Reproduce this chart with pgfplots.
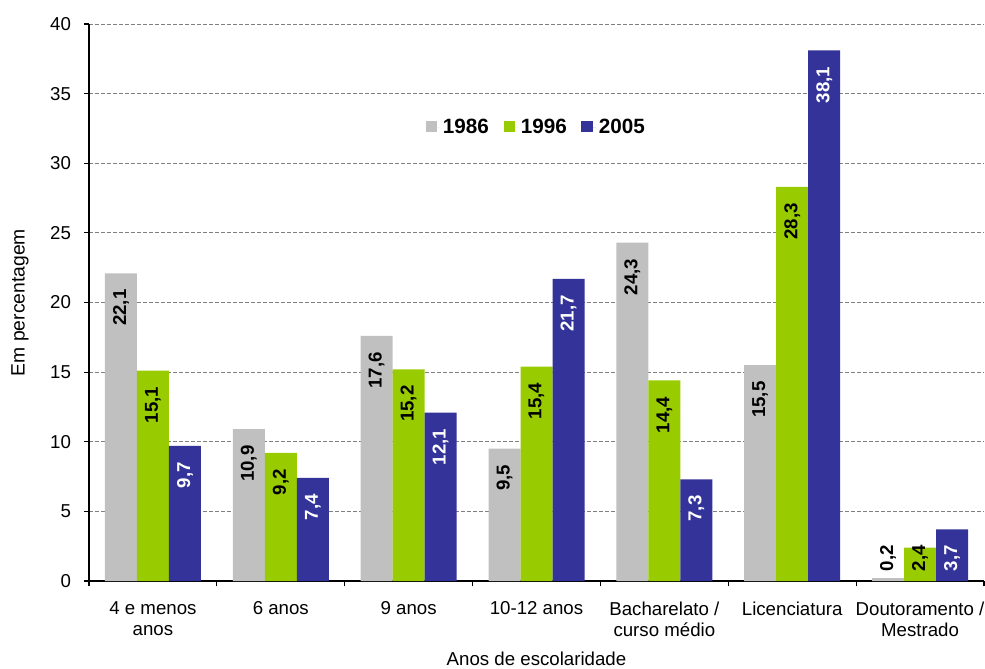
\documentclass[border=0pt]{standalone}
\usepackage{fontspec}
\setmainfont{Liberation Sans}
\usepackage{pgfplots}
\pgfplotsset{compat=1.18}
\definecolor{c86}{HTML}{C0C0C0}
\definecolor{c96}{HTML}{99CC00}
\definecolor{c05}{HTML}{333399}
\begin{document}
\begin{tikzpicture}
\useasboundingbox (-66.75pt,-65.25pt) rectangle (672pt,435.75pt);
\begin{axis}[
  at={(0,0)}, anchor=south west,
  scale only axis, width=671.25pt, height=417.75pt,
  ybar=0pt, bar width=24pt,
  xmin=-0.5, xmax=6.5, ymin=0, ymax=40,
  axis lines*=left,
  axis line style={line width=0.9pt},
  ytick={0,5,...,40},
  xtick={0,...,6},
  xticklabels={4 e menos\\anos, 6 anos, 9 anos, 10-12 anos, Bacharelato /\\curso médio, Licenciatura, Doutoramento /\\Mestrado},
  major tick length=0pt,
  minor xtick={-0.5,0.5,...,6.5},
  minor ytick={0,5,...,40},
  minor tick length=4pt,
  tick align=outside,
  tick style={black, line width=0.9pt},
  ymajorgrids,
  major grid style={gray, dash pattern=on 3pt off 1.5pt, line width=0.6pt},
  /pgf/number format/assume math mode=true,
  xticklabel style={font=\fontsize{14}{16}\selectfont, align=center, yshift=-12pt},
  yticklabel style={font=\fontsize{14}{16}\selectfont, xshift=-10pt},
  xlabel={Anos de escolaridade},
  xlabel style={font=\fontsize{14}{16}\selectfont, at={(axis description cs:0.5,0)}, anchor=north, yshift=-50pt},
  ylabel={Em percentagem},
  ylabel style={font=\fontsize{14.5}{16}\selectfont, at={([xshift=-51.75pt]axis description cs:0,0.5)}, anchor=center},
  legend style={at={(axis description cs:0.5,0.815)}, anchor=center, draw=none, fill=none,
    legend columns=-1, font=\fontsize{15.5}{18}\selectfont\bfseries,
    /tikz/every even column/.append style={column sep=9pt}},
  legend image code/.code={\path (0pt,0pt) -- (11pt,0pt);\draw[#1, draw=none] (0pt,-4pt) rectangle (8.5pt,4.5pt);},
  nodes near coords={\pgfmathprintnumber[fixed,fixed zerofill,precision=1,use comma]{\pgfplotspointmeta}},
  visualization depends on={rawy \as \rawy},
  every node near coord/.append style={font=\fontsize{14}{16}\selectfont\bfseries, inner sep=3pt,
    yshift={max(-12,27-10.444*\rawy)+3}, rotate=90, anchor=east},
]
\addplot[fill=c86, draw=none] coordinates {
  (0,22.1) (1,10.9) (2,17.6) (3,9.5) (4,24.3) (5,15.5) (6,0.2)
};
\addplot[fill=c96, draw=none] coordinates {
  (0,15.1) (1,9.2) (2,15.2) (3,15.4) (4,14.4) (5,28.3) (6,2.4)
};
\addplot[fill=c05, draw=none, every node near coord/.append style={white}] coordinates {
  (0,9.7) (1,7.4) (2,12.1) (3,21.7) (4,7.3) (5,38.1) (6,3.7)
};
\legend{1986,1996,2005}
\end{axis}
\end{tikzpicture}
\end{document}
